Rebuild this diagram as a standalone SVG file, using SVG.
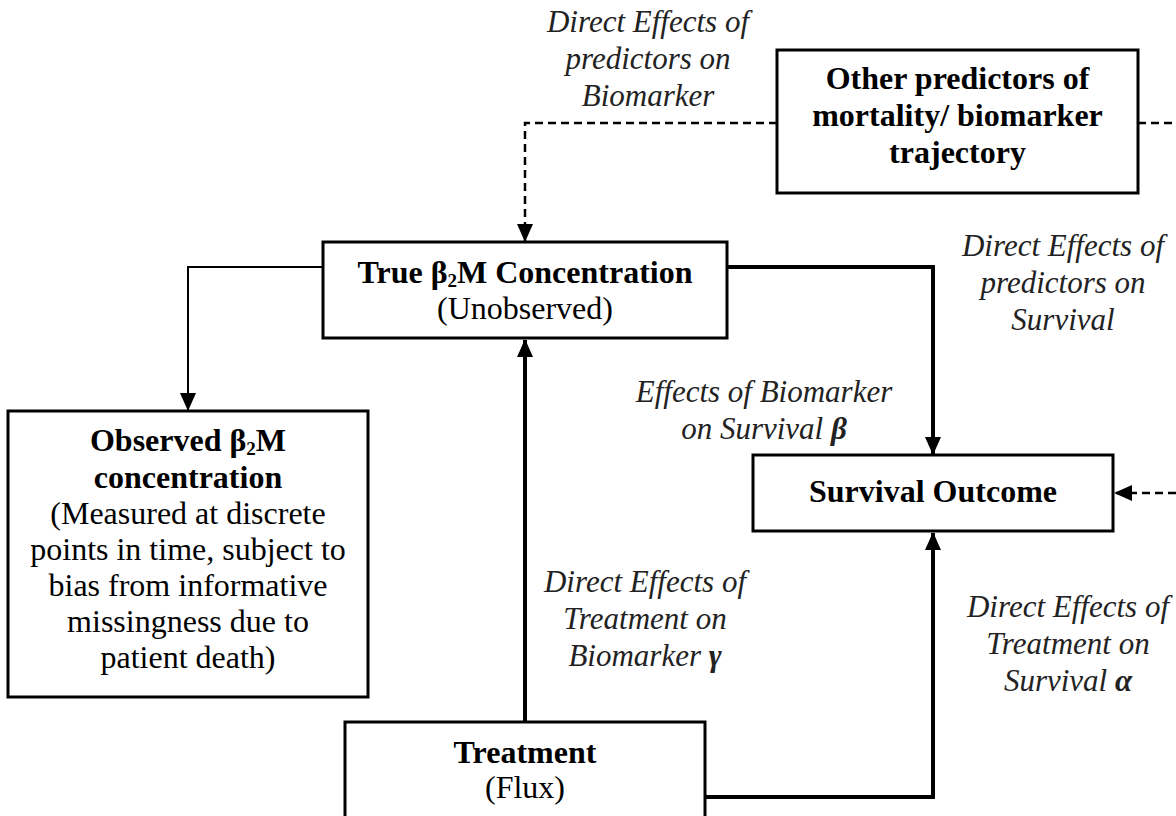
<svg xmlns="http://www.w3.org/2000/svg" width="1176" height="816" viewBox="0 0 1176 816">
<defs>
<style>
.box{fill:#fff;stroke:#000;stroke-width:3}
.b{font-family:"Liberation Serif","Times New Roman",serif;font-weight:bold;font-size:32px;text-anchor:middle;fill:#000}
.r{font-family:"Liberation Serif","Times New Roman",serif;font-size:32px;text-anchor:middle;fill:#000}
.i{font-family:"Liberation Serif","Times New Roman",serif;font-style:italic;font-size:31px;text-anchor:middle;fill:#222}
.dash{fill:none;stroke:#000;stroke-width:2.5;stroke-dasharray:8 5}
.thin{fill:none;stroke:#000;stroke-width:2}
.thick{fill:none;stroke:#000;stroke-width:4}
</style>
<marker id="ah" markerUnits="userSpaceOnUse" markerWidth="18" markerHeight="18" viewBox="0 0 18 18" refX="17" refY="9" orient="auto">
<path d="M0,1 L18,9 L0,17 Z" fill="#000"/>
</marker>
</defs>
<rect width="1176" height="816" fill="#fff"/>

<g id="connectors">
<path class="dash" d="M777,123 H525 V241" marker-end="url(#ah)"/>
<path class="dash" d="M1138,123 H1176"/>
<path class="dash" d="M1176,493 H1115" marker-end="url(#ah)"/>
<path class="thin" d="M323,267 H188 V410" marker-end="url(#ah)"/>
<path class="thick" d="M727,267 H933 V454" marker-end="url(#ah)"/>
<path class="thick" d="M525,722 V340" marker-end="url(#ah)"/>
<path class="thick" d="M705,797 H933 V533" marker-end="url(#ah)"/>
</g>

<g id="other">
<rect class="box" x="777" y="50" width="361" height="143"/>
<text class="b" x="957.5" y="89">Other predictors of</text>
<text class="b" x="957.5" y="126">mortality/ biomarker</text>
<text class="b" x="957.5" y="163">trajectory</text>
</g>

<g id="true">
<rect class="box" x="323" y="242" width="404" height="96"/>
<text class="b" x="525" y="283">True β<tspan font-size="19" dy="4">2</tspan><tspan dy="-4">M Concentration</tspan></text>
<text class="r" x="525" y="319">(Unobserved)</text>
</g>

<g id="observed">
<rect class="box" x="8" y="411" width="360" height="286"/>
<text class="b" x="188" y="451">Observed β<tspan font-size="19" dy="4">2</tspan><tspan dy="-4">M</tspan></text>
<text class="b" x="188" y="488">concentration</text>
<text class="r" x="188" y="524">(Measured at discrete</text>
<text class="r" x="188" y="560">points in time, subject to</text>
<text class="r" x="188" y="596">bias from informative</text>
<text class="r" x="188" y="632">missingness due to</text>
<text class="r" x="188" y="668">patient death)</text>
</g>

<g id="survival">
<rect class="box" x="753" y="455" width="360" height="76"/>
<text class="b" x="933" y="502">Survival Outcome</text>
</g>

<g id="treatment">
<rect class="box" x="345" y="722" width="360" height="110"/>
<text class="b" x="525" y="763">Treatment</text>
<text class="r" x="525" y="798">(Flux)</text>
</g>

<g id="labels">
<text class="i" x="648" y="32">Direct Effects of</text>
<text class="i" x="648" y="69">predictors on</text>
<text class="i" x="648" y="106">Biomarker</text>
<text class="i" x="1063" y="256">Direct Effects of</text>
<text class="i" x="1063" y="293">predictors on</text>
<text class="i" x="1063" y="330">Survival</text>
<text class="i" x="764" y="402">Effects of Biomarker</text>
<text class="i" x="764" y="439">on Survival <tspan font-weight="bold">β</tspan></text>
<text class="i" x="645" y="592">Direct Effects of</text>
<text class="i" x="645" y="629">Treatment on</text>
<text class="i" x="645" y="666">Biomarker <tspan font-weight="bold">γ</tspan></text>
<text class="i" x="1068" y="617">Direct Effects of</text>
<text class="i" x="1068" y="654">Treatment on</text>
<text class="i" x="1068" y="691">Survival <tspan font-weight="bold">α</tspan></text>
</g>
</svg>
